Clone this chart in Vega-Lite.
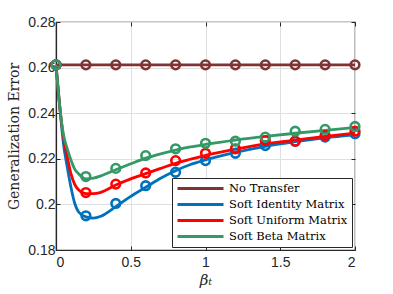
{
  "$schema": "https://vega.github.io/schema/vega-lite/v6.json",
  "autosize": "none",
  "width": 299,
  "height": 228,
  "padding": {"left": 56, "top": 22, "right": 38, "bottom": 44},
  "background": "white",
  "datasets": {
    "lines": [
      {"series": "No Transfer", "beta": 0, "err": 0.2612},
      {"series": "No Transfer", "beta": 0.5, "err": 0.2612},
      {"series": "No Transfer", "beta": 1, "err": 0.2612},
      {"series": "No Transfer", "beta": 1.5, "err": 0.2612},
      {"series": "No Transfer", "beta": 2, "err": 0.2612},
      {"series": "Soft Identity Matrix", "beta": 0, "err": 0.2612},
      {"series": "Soft Identity Matrix", "beta": 0.025, "err": 0.243},
      {"series": "Soft Identity Matrix", "beta": 0.05, "err": 0.2265},
      {"series": "Soft Identity Matrix", "beta": 0.075, "err": 0.2165},
      {"series": "Soft Identity Matrix", "beta": 0.1, "err": 0.2075},
      {"series": "Soft Identity Matrix", "beta": 0.125, "err": 0.2005},
      {"series": "Soft Identity Matrix", "beta": 0.15, "err": 0.1968},
      {"series": "Soft Identity Matrix", "beta": 0.2, "err": 0.1945},
      {"series": "Soft Identity Matrix", "beta": 0.25, "err": 0.194},
      {"series": "Soft Identity Matrix", "beta": 0.3, "err": 0.1948},
      {"series": "Soft Identity Matrix", "beta": 0.4, "err": 0.199},
      {"series": "Soft Identity Matrix", "beta": 0.5, "err": 0.2035},
      {"series": "Soft Identity Matrix", "beta": 0.6, "err": 0.2075},
      {"series": "Soft Identity Matrix", "beta": 0.7, "err": 0.2115},
      {"series": "Soft Identity Matrix", "beta": 0.8, "err": 0.2148},
      {"series": "Soft Identity Matrix", "beta": 0.9, "err": 0.2175},
      {"series": "Soft Identity Matrix", "beta": 1.0, "err": 0.2195},
      {"series": "Soft Identity Matrix", "beta": 1.2, "err": 0.2228},
      {"series": "Soft Identity Matrix", "beta": 1.4, "err": 0.2255},
      {"series": "Soft Identity Matrix", "beta": 1.6, "err": 0.2275},
      {"series": "Soft Identity Matrix", "beta": 1.8, "err": 0.2292},
      {"series": "Soft Identity Matrix", "beta": 2.0, "err": 0.2305},
      {"series": "Soft Uniform Matrix", "beta": 0, "err": 0.2612},
      {"series": "Soft Uniform Matrix", "beta": 0.025, "err": 0.243},
      {"series": "Soft Uniform Matrix", "beta": 0.05, "err": 0.2295},
      {"series": "Soft Uniform Matrix", "beta": 0.075, "err": 0.221},
      {"series": "Soft Uniform Matrix", "beta": 0.1, "err": 0.2135},
      {"series": "Soft Uniform Matrix", "beta": 0.125, "err": 0.2088},
      {"series": "Soft Uniform Matrix", "beta": 0.15, "err": 0.2065},
      {"series": "Soft Uniform Matrix", "beta": 0.2, "err": 0.2047},
      {"series": "Soft Uniform Matrix", "beta": 0.25, "err": 0.2047},
      {"series": "Soft Uniform Matrix", "beta": 0.3, "err": 0.2053},
      {"series": "Soft Uniform Matrix", "beta": 0.4, "err": 0.2085},
      {"series": "Soft Uniform Matrix", "beta": 0.5, "err": 0.2112},
      {"series": "Soft Uniform Matrix", "beta": 0.6, "err": 0.2135},
      {"series": "Soft Uniform Matrix", "beta": 0.7, "err": 0.2158},
      {"series": "Soft Uniform Matrix", "beta": 0.8, "err": 0.218},
      {"series": "Soft Uniform Matrix", "beta": 0.9, "err": 0.2198},
      {"series": "Soft Uniform Matrix", "beta": 1.0, "err": 0.2215},
      {"series": "Soft Uniform Matrix", "beta": 1.2, "err": 0.2242},
      {"series": "Soft Uniform Matrix", "beta": 1.4, "err": 0.2265},
      {"series": "Soft Uniform Matrix", "beta": 1.6, "err": 0.2282},
      {"series": "Soft Uniform Matrix", "beta": 1.8, "err": 0.2298},
      {"series": "Soft Uniform Matrix", "beta": 2.0, "err": 0.2312},
      {"series": "Soft Beta Matrix", "beta": 0, "err": 0.2612},
      {"series": "Soft Beta Matrix", "beta": 0.025, "err": 0.243},
      {"series": "Soft Beta Matrix", "beta": 0.05, "err": 0.2305},
      {"series": "Soft Beta Matrix", "beta": 0.075, "err": 0.2245},
      {"series": "Soft Beta Matrix", "beta": 0.1, "err": 0.2195},
      {"series": "Soft Beta Matrix", "beta": 0.125, "err": 0.2155},
      {"series": "Soft Beta Matrix", "beta": 0.15, "err": 0.2135},
      {"series": "Soft Beta Matrix", "beta": 0.2, "err": 0.2112},
      {"series": "Soft Beta Matrix", "beta": 0.25, "err": 0.2115},
      {"series": "Soft Beta Matrix", "beta": 0.3, "err": 0.2125},
      {"series": "Soft Beta Matrix", "beta": 0.4, "err": 0.2152},
      {"series": "Soft Beta Matrix", "beta": 0.5, "err": 0.2178},
      {"series": "Soft Beta Matrix", "beta": 0.6, "err": 0.2203},
      {"series": "Soft Beta Matrix", "beta": 0.7, "err": 0.2222},
      {"series": "Soft Beta Matrix", "beta": 0.8, "err": 0.2238},
      {"series": "Soft Beta Matrix", "beta": 0.9, "err": 0.2252},
      {"series": "Soft Beta Matrix", "beta": 1.0, "err": 0.2263},
      {"series": "Soft Beta Matrix", "beta": 1.2, "err": 0.2282},
      {"series": "Soft Beta Matrix", "beta": 1.4, "err": 0.2298},
      {"series": "Soft Beta Matrix", "beta": 1.6, "err": 0.2312},
      {"series": "Soft Beta Matrix", "beta": 1.8, "err": 0.2325},
      {"series": "Soft Beta Matrix", "beta": 2.0, "err": 0.2337}
    ],
    "markers": [
      {"series": "No Transfer", "beta": 0, "err": 0.2612},
      {"series": "No Transfer", "beta": 0.2, "err": 0.2612},
      {"series": "No Transfer", "beta": 0.4, "err": 0.2612},
      {"series": "No Transfer", "beta": 0.6, "err": 0.2612},
      {"series": "No Transfer", "beta": 0.8, "err": 0.2612},
      {"series": "No Transfer", "beta": 1.0, "err": 0.2612},
      {"series": "No Transfer", "beta": 1.2, "err": 0.2612},
      {"series": "No Transfer", "beta": 1.4, "err": 0.2612},
      {"series": "No Transfer", "beta": 1.6, "err": 0.2612},
      {"series": "No Transfer", "beta": 1.8, "err": 0.2612},
      {"series": "No Transfer", "beta": 2.0, "err": 0.2612},
      {"series": "Soft Identity Matrix", "beta": 0, "err": 0.2612},
      {"series": "Soft Identity Matrix", "beta": 0.2, "err": 0.195},
      {"series": "Soft Identity Matrix", "beta": 0.4, "err": 0.2004},
      {"series": "Soft Identity Matrix", "beta": 0.6, "err": 0.2082},
      {"series": "Soft Identity Matrix", "beta": 0.8, "err": 0.2141},
      {"series": "Soft Identity Matrix", "beta": 1.0, "err": 0.2192},
      {"series": "Soft Identity Matrix", "beta": 1.2, "err": 0.2224},
      {"series": "Soft Identity Matrix", "beta": 1.4, "err": 0.2258},
      {"series": "Soft Identity Matrix", "beta": 1.6, "err": 0.2277},
      {"series": "Soft Identity Matrix", "beta": 1.8, "err": 0.2295},
      {"series": "Soft Identity Matrix", "beta": 2.0, "err": 0.231},
      {"series": "Soft Uniform Matrix", "beta": 0, "err": 0.2612},
      {"series": "Soft Uniform Matrix", "beta": 0.2, "err": 0.2052},
      {"series": "Soft Uniform Matrix", "beta": 0.4, "err": 0.2089},
      {"series": "Soft Uniform Matrix", "beta": 0.6, "err": 0.2138},
      {"series": "Soft Uniform Matrix", "beta": 0.8, "err": 0.2192},
      {"series": "Soft Uniform Matrix", "beta": 1.0, "err": 0.2224},
      {"series": "Soft Uniform Matrix", "beta": 1.2, "err": 0.2244},
      {"series": "Soft Uniform Matrix", "beta": 1.4, "err": 0.228},
      {"series": "Soft Uniform Matrix", "beta": 1.6, "err": 0.2277},
      {"series": "Soft Uniform Matrix", "beta": 1.8, "err": 0.2302},
      {"series": "Soft Uniform Matrix", "beta": 2.0, "err": 0.2321},
      {"series": "Soft Beta Matrix", "beta": 0, "err": 0.2612},
      {"series": "Soft Beta Matrix", "beta": 0.2, "err": 0.2122},
      {"series": "Soft Beta Matrix", "beta": 0.4, "err": 0.2158},
      {"series": "Soft Beta Matrix", "beta": 0.6, "err": 0.2214},
      {"series": "Soft Beta Matrix", "beta": 0.8, "err": 0.2244},
      {"series": "Soft Beta Matrix", "beta": 1.0, "err": 0.2268},
      {"series": "Soft Beta Matrix", "beta": 1.2, "err": 0.2277},
      {"series": "Soft Beta Matrix", "beta": 1.4, "err": 0.2295},
      {"series": "Soft Beta Matrix", "beta": 1.6, "err": 0.2321},
      {"series": "Soft Beta Matrix", "beta": 1.8, "err": 0.2329},
      {"series": "Soft Beta Matrix", "beta": 2.0, "err": 0.2342}
    ]
  },
  "config": {
    "view": {"stroke": "#262626", "strokeWidth": 1.2},
    "axis": {
      "labelFont": "Liberation Sans",
      "labelFontSize": 14,
      "labelColor": "#262626",
      "tickColor": "#262626",
      "tickSize": -4,
      "tickWidth": 1,
      "domainColor": "#262626",
      "domainWidth": 1.2,
      "gridColor": "#dfdfdf",
      "gridWidth": 1,
      "titleColor": "#262626"
    }
  },
  "resolve": {"axis": {"x": "independent", "y": "independent"}},
  "layer": [
    {
      "data": {"name": "lines"},
      "mark": {"type": "line", "strokeWidth": 2.8, "interpolate": "monotone"},
      "encoding": {
        "x": {
          "field": "beta", "type": "quantitative",
          "scale": {"domain": [0, 2], "nice": false},
          "axis": {
            "values": [0, 0.5, 1, 1.5, 2], "format": "~g",
            "labelPadding": 9, "title": "βₜ",
            "titleFont": "DejaVu Serif", "titleFontStyle": "italic",
            "titleFontSize": 15, "titleFontWeight": "normal", "titlePadding": 3
          }
        },
        "y": {
          "field": "err", "type": "quantitative",
          "scale": {"domain": [0.18, 0.28], "nice": false, "zero": false},
          "axis": {
            "values": [0.18, 0.2, 0.22, 0.24, 0.26, 0.28], "format": ".2~f",
            "labelPadding": 5, "title": "Generalization Error",
            "titleFont": "DejaVu Serif", "titleFontSize": 14,
            "titleFontWeight": "normal", "titlePadding": 6
          }
        },
        "color": {
          "field": "series", "type": "nominal",
          "scale": {
            "domain": ["No Transfer", "Soft Identity Matrix", "Soft Uniform Matrix", "Soft Beta Matrix"],
            "range": ["#803333", "#0072BD", "#FF0000", "#339966"]
          },
          "legend": {
            "title": null, "orient": "bottom-right", "offset": 3,
            "strokeColor": "#262626", "fillColor": "white", "padding": 4,
            "labelFont": "DejaVu Serif", "labelFontSize": 11.5, "labelColor": "black",
            "symbolType": "M-1,0H8.2", "symbolSize": 100, "symbolStrokeWidth": 3,
            "labelOffset": 40, "rowPadding": 3
          }
        }
      }
    },
    {
      "data": {"name": "markers"},
      "mark": {"type": "point", "filled": false, "strokeWidth": 2.6, "size": 75, "opacity": 1},
      "encoding": {
        "x": {"field": "beta", "type": "quantitative", "axis": null},
        "y": {"field": "err", "type": "quantitative", "axis": null},
        "color": {"field": "series", "type": "nominal", "legend": null}
      }
    },
    {
      "data": {"name": "markers"},
      "mark": {"type": "point", "opacity": 0},
      "encoding": {
        "x": {
          "field": "beta", "type": "quantitative",
          "axis": {"orient": "top", "values": [0, 0.5, 1, 1.5, 2], "labels": false, "grid": false, "domain": false, "title": null}
        },
        "y": {
          "field": "err", "type": "quantitative",
          "axis": {"orient": "right", "values": [0.18, 0.2, 0.22, 0.24, 0.26, 0.28], "labels": false, "grid": false, "domain": false, "title": null}
        }
      }
    }
  ]
}
